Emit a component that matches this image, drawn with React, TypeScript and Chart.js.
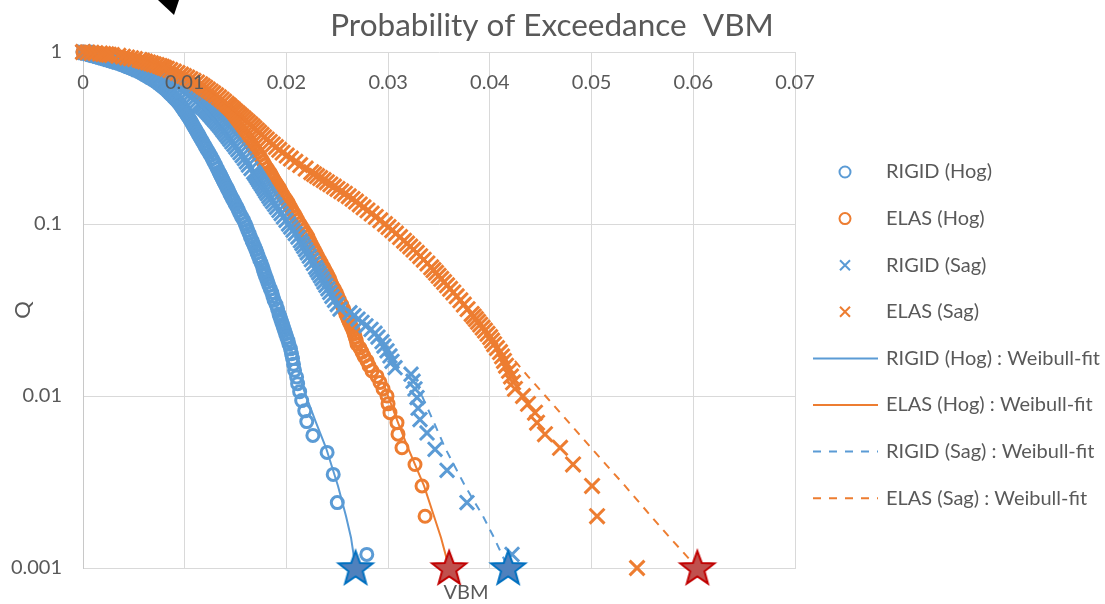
import { useEffect, useRef } from "react";
import { Chart, registerables } from "chart.js";

Chart.register(...registerables);

const BLUE = "#5b9bd5";
const ORANGE = "#ed7d31";
const TEXT = "#595959";
const GRID = "#d9d9d9";

const titleText = "Probability of Exceedance  VBM";
const xAxisTitle = "VBM";
const yAxisTitle = "Q";
const xTickValues = [0, 0.01, 0.02, 0.03, 0.04, 0.05, 0.06, 0.07];
const xTickLabels = ["0", "0.01", "0.02", "0.03", "0.04", "0.05", "0.06", "0.07"];
const yTickValues = [0.001, 0.01, 0.1, 1];
const yTickLabels = ["0.001", "0.01", "0.1", "1"];

// Exceedance levels used for the densely populated part of every sample
const qGrid = [
  1, 0.995, 0.99, 0.985, 0.98, 0.975, 0.97, 0.965, 0.96, 0.95, 0.94, 0.93, 0.92, 0.91, 0.9, 0.89, 0.88, 0.87,
  0.86, 0.85, 0.84, 0.83, 0.82, 0.81, 0.8, 0.785, 0.77, 0.755, 0.74, 0.725, 0.71, 0.695, 0.68, 0.665, 0.65,
  0.635, 0.62, 0.605, 0.59, 0.575, 0.56, 0.545, 0.53, 0.515, 0.5, 0.49, 0.48, 0.47, 0.46, 0.45, 0.44, 0.43,
  0.42, 0.41, 0.4, 0.39, 0.38, 0.37, 0.36, 0.35, 0.34, 0.33, 0.32, 0.31, 0.3, 0.29, 0.28, 0.27, 0.26, 0.25,
  0.24, 0.23, 0.22, 0.21, 0.2, 0.195, 0.19, 0.185, 0.18, 0.175, 0.17, 0.165, 0.16, 0.155, 0.15, 0.145, 0.14,
  0.135, 0.13, 0.125, 0.12, 0.115, 0.11, 0.105, 0.1, 0.096, 0.092, 0.088, 0.084, 0.08, 0.077, 0.074, 0.071,
  0.068, 0.065, 0.062, 0.059, 0.056, 0.054, 0.052, 0.05, 0.048, 0.046, 0.044, 0.042, 0.04, 0.038, 0.036,
  0.034, 0.032, 0.03, 0.029, 0.028, 0.027, 0.026, 0.025, 0.024, 0.023, 0.022, 0.021, 0.02,
];

// VBM values at the levels above
const rigidHogX = [
  0, 0.00009, 0.00018, 0.00026, 0.00034, 0.00043, 0.00053, 0.0006, 0.00069, 0.00095, 0.00121, 0.00147, 0.00174,
  0.002, 0.00229, 0.00256, 0.00282, 0.00312, 0.00341, 0.00367, 0.00388, 0.00411, 0.00433, 0.00455, 0.00478,
  0.00508, 0.0054, 0.00568, 0.00594, 0.00619, 0.00647, 0.00674, 0.00699, 0.00723, 0.00746, 0.00768, 0.00789,
  0.0081, 0.0083, 0.00849, 0.00868, 0.00888, 0.00908, 0.00927, 0.00946, 0.00958, 0.00968, 0.00979, 0.0099, 0.01,
  0.01012, 0.01023, 0.01034, 0.01045, 0.01056, 0.01067, 0.01078, 0.01088, 0.011, 0.01112, 0.01124, 0.01137,
  0.01149, 0.01163, 0.01177, 0.01191, 0.01205, 0.01221, 0.01237, 0.01254, 0.0127, 0.01287, 0.01304, 0.0132,
  0.01338, 0.01348, 0.01357, 0.01367, 0.01377, 0.01387, 0.01398, 0.01409, 0.01421, 0.01433, 0.01444, 0.01456,
  0.0147, 0.01484, 0.01498, 0.01515, 0.01529, 0.01542, 0.0156, 0.0158, 0.01596, 0.01608, 0.0162, 0.01633,
  0.01646, 0.01662, 0.01673, 0.01686, 0.01699, 0.01711, 0.01724, 0.01737, 0.01753, 0.01767, 0.01774, 0.01783,
  0.01793, 0.01805, 0.01816, 0.01827, 0.01841, 0.01856, 0.01867, 0.01879, 0.01898, 0.01913, 0.01927, 0.01935,
  0.01944, 0.01953, 0.01962, 0.01971, 0.01981, 0.01992, 0.02003, 0.02015, 0.02025,
];
const elasHogX = [
  0, 0.00039, 0.00074, 0.00108, 0.00147, 0.00187, 0.00214, 0.00232, 0.00256, 0.00301, 0.00343, 0.0038, 0.00411,
  0.00442, 0.00478, 0.00509, 0.00541, 0.0057, 0.00593, 0.00613, 0.00634, 0.00657, 0.00678, 0.00701, 0.00726,
  0.00759, 0.0079, 0.00825, 0.00855, 0.00885, 0.00914, 0.00939, 0.00965, 0.0099, 0.01014, 0.01037, 0.01062,
  0.01087, 0.01114, 0.01141, 0.01166, 0.01191, 0.01218, 0.01247, 0.01275, 0.01293, 0.01311, 0.01328, 0.01347,
  0.01364, 0.01382, 0.014, 0.01419, 0.01438, 0.01457, 0.01478, 0.01495, 0.01512, 0.01529, 0.01547, 0.01565,
  0.01584, 0.01604, 0.0162, 0.01638, 0.01656, 0.01673, 0.01692, 0.01712, 0.01733, 0.01753, 0.01772, 0.0179,
  0.01813, 0.01837, 0.01847, 0.01857, 0.01868, 0.01879, 0.01893, 0.01906, 0.01921, 0.01934, 0.01947, 0.0196,
  0.01974, 0.01992, 0.0201, 0.02025, 0.02041, 0.02057, 0.02076, 0.02094, 0.02113, 0.02134, 0.02152, 0.02172,
  0.02192, 0.02213, 0.02226, 0.02241, 0.02256, 0.02272, 0.02289, 0.02307, 0.02325, 0.02345, 0.02366, 0.02379,
  0.02394, 0.02409, 0.02424, 0.02436, 0.0245, 0.0247, 0.02489, 0.02505, 0.02523, 0.02543, 0.02563, 0.02584,
  0.02595, 0.02605, 0.02617, 0.02629, 0.02642, 0.02655, 0.02666, 0.02676, 0.02686, 0.02694,
];
const rigidSagX = [
  0, 0.00018, 0.00033, 0.00049, 0.00067, 0.00084, 0.001, 0.00112, 0.00128, 0.00159, 0.00187, 0.00213, 0.00239,
  0.00265, 0.00295, 0.00322, 0.00347, 0.00377, 0.00406, 0.00433, 0.00462, 0.00492, 0.00521, 0.00551, 0.00578,
  0.00613, 0.00647, 0.00678, 0.00708, 0.00737, 0.00769, 0.008, 0.00832, 0.00862, 0.00886, 0.0091, 0.00935,
  0.00961, 0.00987, 0.01014, 0.01041, 0.01067, 0.0109, 0.01115, 0.0114, 0.01156, 0.01173, 0.01192, 0.01209,
  0.01223, 0.01238, 0.01253, 0.01268, 0.01283, 0.01299, 0.01316, 0.01332, 0.01349, 0.01364, 0.01379, 0.01395,
  0.01412, 0.01429, 0.01446, 0.01464, 0.01484, 0.01502, 0.01523, 0.01544, 0.01565, 0.01587, 0.01607, 0.01626,
  0.01652, 0.01678, 0.01692, 0.01704, 0.01716, 0.01728, 0.01741, 0.01755, 0.01769, 0.01783, 0.01797, 0.01812,
  0.01828, 0.01844, 0.01864, 0.01884, 0.01903, 0.01926, 0.01948, 0.01971, 0.01996, 0.02021, 0.02042, 0.02065,
  0.02087, 0.02113, 0.02137, 0.02153, 0.0217, 0.02188, 0.02205, 0.02225, 0.02245, 0.02265, 0.02287, 0.02302,
  0.02318, 0.02335, 0.02352, 0.02369, 0.02388, 0.02408, 0.02426, 0.02447, 0.02473, 0.025, 0.02527,
];
const elasSagX = [
  0, 0.00044, 0.00084, 0.00123, 0.00167, 0.00199, 0.0023, 0.00254, 0.00285, 0.00348, 0.00393, 0.00433, 0.00472,
  0.00511, 0.00556, 0.00583, 0.0061, 0.00639, 0.00669, 0.00695, 0.00725, 0.00754, 0.00777, 0.00799, 0.00824,
  0.00858, 0.00893, 0.00929, 0.00964, 0.00993, 0.01025, 0.01056, 0.01087, 0.01121, 0.01153, 0.01177, 0.01202,
  0.01228, 0.01255, 0.01281, 0.01309, 0.01337, 0.01363, 0.01388, 0.01413, 0.01431, 0.01447, 0.01466, 0.01483,
  0.01501, 0.01521, 0.0154, 0.0156, 0.01581, 0.01601, 0.01622, 0.01645, 0.01667, 0.01687, 0.0171, 0.01732,
  0.01756, 0.0178, 0.01807, 0.01836, 0.01866, 0.01897, 0.01929, 0.01962, 0.02003, 0.02044, 0.02088, 0.02135,
  0.02189, 0.02244, 0.02272, 0.02301, 0.02332, 0.02366, 0.02398, 0.02432, 0.02467, 0.02502, 0.02539, 0.02575,
  0.02613, 0.0265, 0.02684, 0.02721, 0.02758, 0.02797, 0.02838, 0.02879, 0.02923, 0.02969, 0.03004, 0.0304,
  0.03077, 0.03117, 0.03156, 0.03186, 0.03217, 0.03249, 0.03282, 0.03315, 0.0335, 0.03386, 0.03423, 0.03446,
  0.03471, 0.03496, 0.03522, 0.0355, 0.03579, 0.03609, 0.03641, 0.03674, 0.0371, 0.03744, 0.03781, 0.03821,
  0.03842, 0.03863, 0.03884, 0.03905, 0.03929, 0.03952, 0.03977, 0.04003, 0.04022, 0.04042,
];

// Sparse upper tails (largest VBM values)
const rigidHogTailQ = [0.0188, 0.0176, 0.0165, 0.0153, 0.0141, 0.0129, 0.0118, 0.0106, 0.0094, 0.0082, 0.0071, 0.0059, 0.0047, 0.0035, 0.0024, 0.0012];
const rigidHogTailX = [0.0204, 0.0205, 0.0206, 0.0207, 0.0208, 0.021, 0.0211, 0.0213, 0.0215, 0.0218, 0.022, 0.0226, 0.024, 0.0246, 0.025, 0.0279];
const elasHogTailQ = [0.019, 0.018, 0.017, 0.016, 0.015, 0.014, 0.013, 0.012, 0.011, 0.01, 0.009, 0.008, 0.007, 0.006, 0.005, 0.004, 0.003, 0.002];
const elasHogTailX = [0.02723, 0.02743, 0.02763, 0.02792, 0.02812, 0.02841, 0.02891, 0.0292, 0.0295, 0.02989, 0.02999, 0.03018, 0.03087, 0.03097, 0.03136, 0.03264, 0.03333, 0.03363];
const rigidSagTailQ = [0.0305, 0.0293, 0.028, 0.0268, 0.0256, 0.0244, 0.0232, 0.022, 0.0207, 0.0195, 0.0183, 0.0171, 0.0159, 0.0146, 0.0134, 0.0122, 0.011, 0.0098, 0.0085, 0.0073, 0.0061, 0.0049, 0.0037, 0.0024, 0.0012];
const rigidSagTailX = [0.02625, 0.02664, 0.02704, 0.02743, 0.02782, 0.02832, 0.02871, 0.029, 0.0294, 0.02959, 0.02989, 0.03018, 0.03038, 0.03068, 0.03225, 0.03245, 0.03264, 0.03284, 0.03294, 0.03313, 0.03382, 0.03461, 0.03579, 0.03775, 0.04218];
const elasSagTailQ = [0.019, 0.018, 0.017, 0.016, 0.015, 0.014, 0.013, 0.012, 0.011, 0.01, 0.009, 0.008, 0.007, 0.006, 0.005, 0.004, 0.003, 0.002, 0.001];
const elasSagTailX = [0.0407, 0.041, 0.0412, 0.04139, 0.04159, 0.04188, 0.04208, 0.04228, 0.04247, 0.04326, 0.04375, 0.04444, 0.04464, 0.04542, 0.0469, 0.04818, 0.05005, 0.05054, 0.05447];

// Weibull fits
const fitQ = [0.012, 0.01, 0.007, 0.005, 0.003, 0.002, 0.0015, 0.001];
const rigidHogFitX = [0.02143, 0.02193, 0.02291, 0.02389, 0.02507, 0.02586, 0.02635, 0.0268];
const elasHogFitX = [0.0295, 0.02999, 0.03097, 0.03195, 0.03353, 0.03451, 0.0352, 0.036];
const rigidSagFitX = [0.03274, 0.03333, 0.03451, 0.03559, 0.03756, 0.03933, 0.04041, 0.0418];
const elasSagFitQ = [0.016, 0.013, 0.01, 0.007, 0.005, 0.003, 0.002, 0.0015, 0.001];
const elasSagFitX = [0.04247, 0.04375, 0.04547, 0.04778, 0.04995, 0.05329, 0.05585, 0.05771, 0.0604];

// Fitted VBM at Q = 0.001
const starQ = [0.001, 0.001];
const rigidStarX = [0.0268, 0.0418];
const elasStarX = [0.036, 0.0604];

type Kind = "circle" | "cross" | "line" | "dash";
const legendItems: { label: string; color: string; kind: Kind }[] = [
  { label: "RIGID (Hog)", color: BLUE, kind: "circle" },
  { label: "ELAS (Hog)", color: ORANGE, kind: "circle" },
  { label: "RIGID (Sag)", color: BLUE, kind: "cross" },
  { label: "ELAS (Sag)", color: ORANGE, kind: "cross" },
  { label: "RIGID (Hog) : Weibull-fit", color: BLUE, kind: "line" },
  { label: "ELAS (Hog) : Weibull-fit", color: ORANGE, kind: "line" },
  { label: "RIGID (Sag) : Weibull-fit", color: BLUE, kind: "dash" },
  { label: "ELAS (Sag) : Weibull-fit", color: ORANGE, kind: "dash" },
];

function toPoints(xs: number[], qs: number[]) {
  const n = Math.min(xs.length, qs.length);
  const pts: { x: number; y: number }[] = [];
  for (let i = 0; i < n; i++) pts.push({ x: xs[i], y: qs[i] });
  return pts;
}

function makeStar(fill: string, stroke: string) {
  const c = document.createElement("canvas");
  c.width = 42;
  c.height = 42;
  const g = c.getContext("2d")!;
  g.beginPath();
  for (let i = 0; i < 10; i++) {
    const r = i % 2 === 0 ? 18 : 7.5;
    const a = -Math.PI / 2 + (i * Math.PI) / 5;
    const px = 21 + r * Math.cos(a);
    const py = 22 + r * Math.sin(a);
    if (i === 0) g.moveTo(px, py);
    else g.lineTo(px, py);
  }
  g.closePath();
  g.fillStyle = fill;
  g.fill();
  g.lineWidth = 2;
  g.strokeStyle = stroke;
  g.stroke();
  return c;
}

const decorations = {
  id: "decorations",
  afterDraw(chart: any) {
    const { ctx, chartArea } = chart;
    const xs = chart.scales.x;
    ctx.save();
    ctx.fillStyle = TEXT;
    ctx.textBaseline = "middle";

    ctx.font = "31.5px Lato";
    ctx.textAlign = "center";
    ctx.fillText(titleText, 552, 26);

    ctx.font = "20px Lato";
    xTickValues.forEach((v, i) => {
      ctx.fillText(xTickLabels[i], xs.getPixelForValue(v), chartArea.top + 31);
    });
    ctx.fillText(xAxisTitle, 466, 593);

    // legend
    ctx.textAlign = "left";
    legendItems.forEach((item, i) => {
      const y = 172 + i * 46.6;
      ctx.strokeStyle = item.color;
      ctx.lineWidth = 2;
      ctx.setLineDash([]);
      if (item.kind === "circle") {
        ctx.beginPath();
        ctx.arc(845, y, 5.5, 0, Math.PI * 2);
        ctx.stroke();
      } else if (item.kind === "cross") {
        ctx.beginPath();
        ctx.moveTo(840, y - 5);
        ctx.lineTo(850, y + 5);
        ctx.moveTo(850, y - 5);
        ctx.lineTo(840, y + 5);
        ctx.stroke();
      } else {
        if (item.kind === "dash") ctx.setLineDash([8, 8]);
        ctx.beginPath();
        ctx.moveTo(813, y);
        ctx.lineTo(878, y);
        ctx.stroke();
        ctx.setLineDash([]);
      }
      ctx.fillStyle = TEXT;
      ctx.fillText(item.label, 886, y);
    });

    // arrow tip at the top edge
    ctx.fillStyle = "#000";
    ctx.beginPath();
    ctx.moveTo(158, 0);
    ctx.lineTo(179, 0);
    ctx.lineTo(174, 15);
    ctx.closePath();
    ctx.fill();
    ctx.restore();
  },
};

export default function App() {
  const canvasRef = useRef<HTMLCanvasElement | null>(null);

  useEffect(() => {
    document.body.style.margin = "0";
    const canvas = canvasRef.current;
    if (!canvas) return;
    Chart.defaults.font.family = "Lato, sans-serif";

    const marker = (color: string, style: string, radius: number) => ({
      showLine: false,
      pointStyle: style,
      pointRadius: radius,
      pointBorderWidth: 3,
      pointBorderColor: color,
      pointBackgroundColor: "rgba(0,0,0,0)",
      borderColor: color,
      clip: false as const,
    });
    const fit = (color: string, dash: number[]) => ({
      showLine: true,
      pointRadius: 0,
      borderColor: color,
      borderWidth: 2,
      borderDash: dash,
      tension: 0,
      clip: false as const,
    });

    const chart = new Chart(canvas, {
      type: "scatter",
      data: {
        datasets: [
          { label: legendItems[0].label, data: toPoints(rigidHogX, qGrid).concat(toPoints(rigidHogTailX, rigidHogTailQ)), order: 10, ...marker(BLUE, "circle", 6) },
          { label: legendItems[1].label, data: toPoints(elasHogX, qGrid).concat(toPoints(elasHogTailX, elasHogTailQ)), order: 9, ...marker(ORANGE, "circle", 6) },
          { label: legendItems[2].label, data: toPoints(rigidSagX, qGrid).concat(toPoints(rigidSagTailX, rigidSagTailQ)), order: 8, ...marker(BLUE, "crossRot", 10) },
          { label: legendItems[3].label, data: toPoints(elasSagX, qGrid).concat(toPoints(elasSagTailX, elasSagTailQ)), order: 7, ...marker(ORANGE, "crossRot", 10.5) },
          { label: legendItems[4].label, data: toPoints(rigidHogFitX, fitQ), order: 6, ...fit(BLUE, []) },
          { label: legendItems[5].label, data: toPoints(elasHogFitX, fitQ), order: 5, ...fit(ORANGE, []) },
          { label: legendItems[6].label, data: toPoints(rigidSagFitX, fitQ), order: 4, ...fit(BLUE, [8, 7]) },
          { label: legendItems[7].label, data: toPoints(elasSagFitX, elasSagFitQ), order: 3, ...fit(ORANGE, [8, 7]) },
          {
            label: "RIGID max",
            data: toPoints(rigidStarX, starQ),
            order: 1,
            showLine: false,
            pointStyle: makeStar("#4f81bd", "#0070c0"),
            pointRadius: 18,
            clip: false,
          },
          {
            label: "ELAS max",
            data: toPoints(elasStarX, starQ),
            order: 1,
            showLine: false,
            pointStyle: makeStar("#c0504d", "#c00000"),
            pointRadius: 18,
            clip: false,
          },
        ] as any,
      },
      options: {
        animation: false,
        responsive: false,
        devicePixelRatio: 1,
        events: [],
        layout: { padding: { top: 52, right: 310, left: 0, bottom: 0 } },
        plugins: {
          legend: { display: false },
          title: { display: false },
          tooltip: { enabled: false },
        },
        scales: {
          x: {
            type: "linear",
            position: "bottom",
            min: 0,
            max: 0.07,
            ticks: { display: false, stepSize: 0.01 },
            grid: { color: GRID, drawTicks: false, tickLength: 0 },
            border: { color: GRID },
            afterFit: (scale: any) => {
              scale.height = 36;
            },
          },
          y: {
            type: "logarithmic",
            min: 0.001,
            max: 1,
            afterBuildTicks: (scale: any) => {
              scale.ticks = yTickValues.map((v) => ({ value: v }));
            },
            ticks: {
              color: TEXT,
              font: { size: 20 },
              padding: 21,
              callback: (value: any) => {
                const i = yTickValues.indexOf(Number(value));
                return i >= 0 ? yTickLabels[i] : "";
              },
            },
            grid: { color: GRID, drawTicks: false, tickLength: 0 },
            border: { color: "#c8c8c8" },
            title: {
              display: true,
              text: yAxisTitle,
              color: TEXT,
              font: { size: 22 },
              padding: { top: 10, bottom: 0 },
            },
            afterFit: (scale: any) => {
              scale.width = 83;
            },
          },
        },
      },
      plugins: [decorations],
    });

    return () => chart.destroy();
  }, []);

  return (
    <div style={{ width: 1105, height: 604 }}>
      <canvas ref={canvasRef} width={1105} height={604} style={{ display: "block" }} />
    </div>
  );
}
